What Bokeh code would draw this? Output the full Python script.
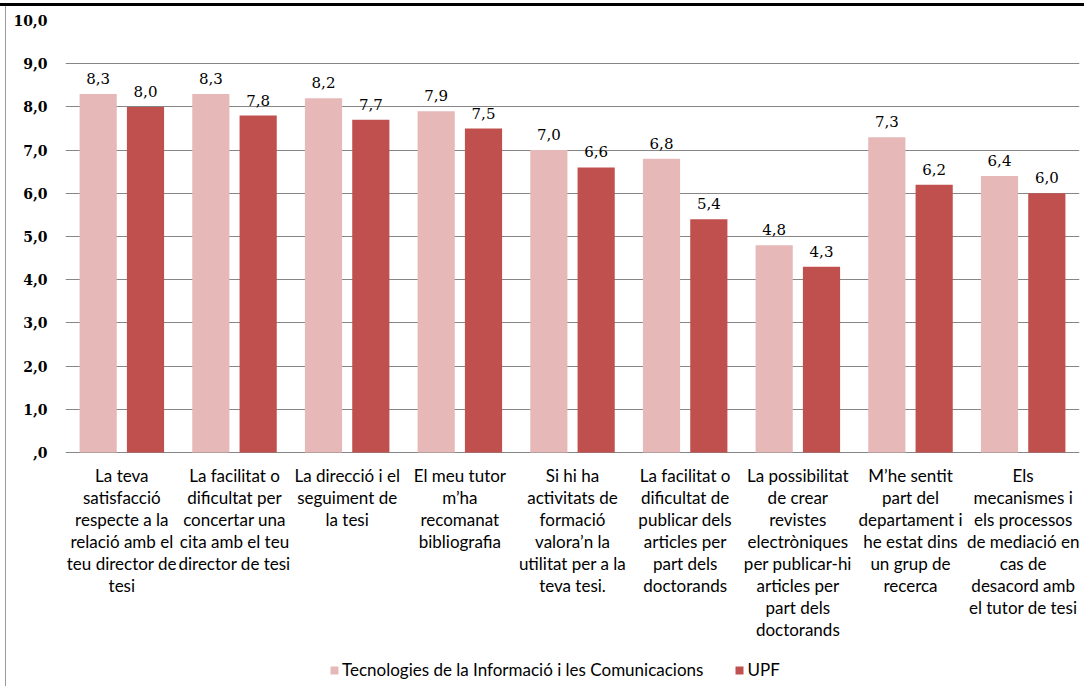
from bokeh.plotting import figure
from bokeh.models import ColumnDataSource, FactorRange, Range1d, FixedTicker, Legend, LegendItem
from bokeh.transform import dodge
from bokeh.core.properties import value
from bokeh.embed import file_html
from bokeh.resources import INLINE

categories = [
    "La teva\nsatisfacció\nrespecte a la\nrelació amb el\nteu director de\ntesi",
    "La facilitat o\ndificultat per\nconcertar una\ncita amb el teu\ndirector de tesi",
    "La direcció i el\nseguiment de\nla tesi",
    "El meu tutor\nm’ha\nrecomanat\nbibliografia",
    "Si hi ha\nactivitats de\nformació\nvalora’n la\nutilitat per a la\nteva tesi.",
    "La facilitat o\ndificultat de\npublicar dels\narticles per\npart dels\ndoctorands",
    "La possibilitat\nde crear\nrevistes\nelectròniques\nper publicar-hi\narticles per\npart dels\ndoctorands",
    "M’he sentit\npart del\ndepartament i\nhe estat dins\nun grup de\nrecerca",
    "Els\nmecanismes i\nels processos\nde mediació en\ncas de\ndesacord amb\nel tutor de tesi",
]
series_names = ["Tecnologies de la Informació i les Comunicacions", "UPF"]
tic_values = [8.3, 8.3, 8.2, 7.9, 7.0, 6.8, 4.8, 7.3, 6.4]
upf_values = [8.0, 7.8, 7.7, 7.5, 6.6, 5.4, 4.3, 6.2, 6.0]
y_ticks = [0, 1, 2, 3, 4, 5, 6, 7, 8, 9, 10]
y_tick_labels = [",0", "1,0", "2,0", "3,0", "4,0", "5,0", "6,0", "7,0", "8,0", "9,0", "10,0"]

def fmt(v):
    return f"{v:.1f}".replace(".", ",")

src = ColumnDataSource(dict(
    cat=categories,
    base=[0] * len(categories),
    tic=tic_values,
    upf=upf_values,
    tic_lbl=[fmt(v) for v in tic_values],
    upf_lbl=[fmt(v) for v in upf_values],
))

PINK = "#E6B9B8"
RED = "#C0504D"
GRID = "#868686"

W, H = 1084, 686
TOP, LEFT, RIGHT = 20, 65, W - 1079
PX_PER_UNIT = 43.2  # y=10 at 20px, y=0 at 452px

p = figure(x_range=FactorRange(*categories, range_padding=0),
           y_range=Range1d(-(H - TOP - 10 * PX_PER_UNIT) / PX_PER_UNIT, 10),
           width=W, height=H, output_backend="svg", toolbar_location=None,
           min_border_left=LEFT, min_border_right=RIGHT, min_border_top=TOP, min_border_bottom=0)
p.outline_line_color = None
p.background_fill_color = "white"
p.border_fill_alpha = 0
p.styles = {
    "background": "linear-gradient(#000000, #000000) 0px 3px / 100% 3px no-repeat, "
                  "linear-gradient(#9a9a9a, #9a9a9a) 5px 6px / 1px 100% no-repeat, #ffffff",
}

r1 = p.vbar(x=dodge("cat", -0.21, range=p.x_range), top="tic", width=0.33, source=src,
            fill_color=PINK, line_color=None)
r2 = p.vbar(x=dodge("cat", 0.21, range=p.x_range), top="upf", width=0.33, source=src,
            fill_color=RED, line_color=None)

for col, off in (("tic", -0.21), ("upf", 0.21)):
    p.text(x=dodge("cat", off, range=p.x_range), y=col, text=col + "_lbl", source=src,
           text_align="center", text_baseline="bottom", y_offset=-10,
           text_font=value("DejaVu Serif"), text_font_size="15px", text_color="#000000")

# category labels below the baseline
p.text(x="cat", y="base", text="cat", source=src, text_align="center", text_baseline="top",
       y_offset=12, text_font=value("Lato"), text_font_size="17px", text_color="#000000",
       text_line_height=1.05)

# axes
p.xaxis.visible = False
p.yaxis.ticker = FixedTicker(ticks=y_ticks)
p.yaxis.major_label_overrides = {t: l for t, l in zip(y_ticks, y_tick_labels)}
p.yaxis.axis_line_color = None
p.yaxis.major_tick_line_color = None
p.yaxis.minor_tick_line_color = None
p.yaxis.major_label_standoff = 12
p.yaxis.major_label_text_font = "DejaVu Serif"
p.yaxis.major_label_text_font_style = "bold"
p.yaxis.major_label_text_font_size = "14px"
p.yaxis.major_label_text_color = "#000000"

p.xgrid.grid_line_color = None
p.ygrid.grid_line_color = GRID
p.ygrid.ticker = FixedTicker(ticks=y_ticks)

legend = Legend(items=[LegendItem(label=series_names[0], renderers=[r1]),
                       LegendItem(label=series_names[1], renderers=[r2])],
                orientation="horizontal", location=(264, 6),
                glyph_width=10, glyph_height=10, label_standoff=3, spacing=31,
                label_text_font="Lato", label_text_font_size="17px",
                label_text_color="#000000", border_line_color=None,
                background_fill_alpha=0, padding=4, margin=0)
p.add_layout(legend)

open("out.html", "w").write(file_html(p, INLINE))
